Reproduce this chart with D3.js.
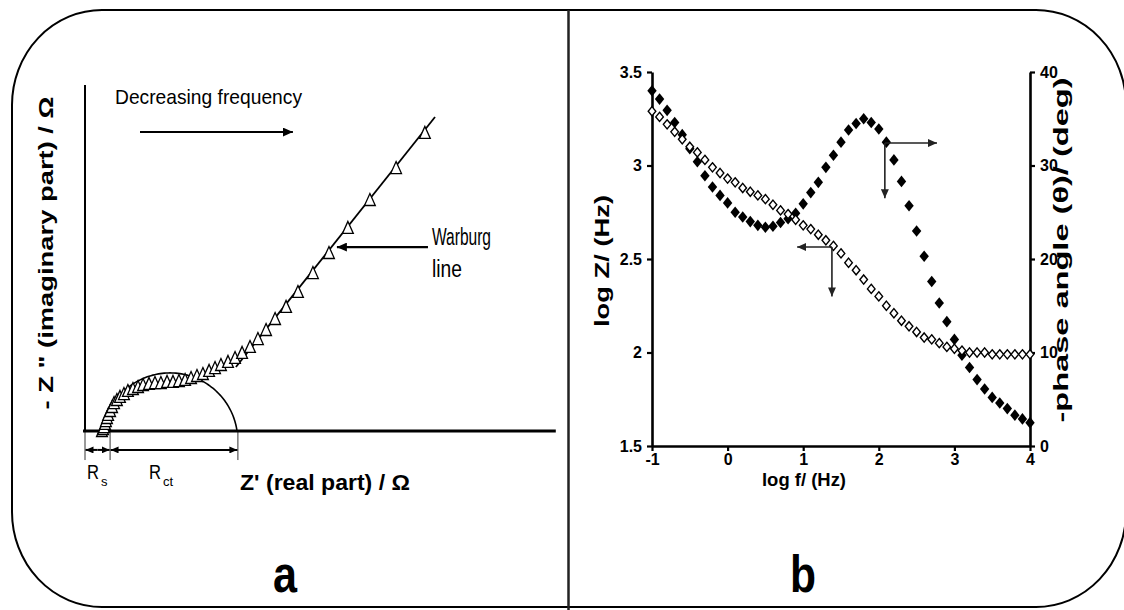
<!DOCTYPE html>
<html><head><meta charset="utf-8">
<script src="https://cdn.jsdelivr.net/npm/d3@7"></script>
<style>body{margin:0;background:#fff}svg{display:block}</style>
</head><body>
<svg id="c" width="1124" height="610"></svg>
<script>
// ---------- Panel a : Nyquist data (Ω) ----------
const nyqRe = [7.7,8.2,8.6,9.1,9.5,10.0,10.5,11.4,12.3,13.2,14.5,15.9,17.7,19.5,21.8,24.1,26.4,29.1,31.8,34.5,37.3,40.0,42.7,45.5,48.2,50.9,53.6,56.4,59.1,61.8,65.0,68.2,71.4,75.0,78.6,82.3,86.4,91.4,96.8,103.6,110.9,119.5,129.5,141.4,154.5];
const nyqIm = [0,0.9,1.8,3.2,4.5,5.9,7.3,9.1,10.9,12.7,14.1,15.5,16.8,18.2,19.1,20.0,20.9,21.4,21.8,21.8,22.3,22.3,22.7,23.2,24.1,25.0,25.9,27.3,28.6,30.0,31.4,33.2,35.5,38.2,41.8,45.9,50.9,56.4,63.2,71.8,80.9,92.3,105.0,119.5,135.5];
const semiStart = 8.2, semiEnd = 69.1, semiPeak = 26.4;
const warburgRe = [68.6, 159.1];
const warburgIm = [29.1, 142.7];
const Rs = 11.4, RsPlusRct = 69.5;

// ---------- Panel b : Bode data ----------
const logF = [-1.0,-0.9,-0.8,-0.7,-0.6,-0.5,-0.4,-0.3,-0.2,-0.1,0.0,0.1,0.2,0.3,0.4,0.5,0.6,0.7,0.8,0.9,1.0,1.1,1.2,1.3,1.4,1.5,1.6,1.7,1.8,1.9,2.0,2.1,2.2,2.3,2.4,2.5,2.6,2.7,2.8,2.9,3.0,3.1,3.2,3.3,3.4,3.5,3.6,3.7,3.8,3.9,4.0];
const logZ = [3.29,3.26,3.22,3.18,3.14,3.10,3.07,3.03,2.99,2.96,2.93,2.91,2.88,2.86,2.84,2.82,2.79,2.76,2.74,2.71,2.68,2.66,2.63,2.60,2.57,2.53,2.48,2.44,2.39,2.34,2.30,2.25,2.21,2.17,2.14,2.11,2.08,2.07,2.05,2.03,2.02,2.01,2.00,2.00,2.00,1.99,1.99,1.99,1.99,1.99,1.99];
const phase = [38.0,37.1,35.9,34.6,33.3,31.8,30.4,28.9,27.7,26.8,26.0,25.0,24.5,24.0,23.6,23.4,23.5,23.9,24.3,24.9,25.9,27.1,28.2,29.8,31.1,32.5,33.8,34.5,35.0,34.6,33.9,32.5,30.6,28.3,25.7,23.0,20.3,17.6,15.3,13.3,11.4,9.7,8.4,7.1,6.1,5.2,4.6,4.0,3.3,2.9,2.5];
const xTicks = [-1,0,1,2,3,4];
const xTickLabels = ["-1","0","1","2","3","4"];
const leftTicks = [1.5,2,2.5,3,3.5];
const leftTickLabels = ["1.5","2","2.5","3","3.5"];
const rightTicks = [0,10,20,30,40];
const rightTickLabels = ["0","10","20","30","40"];

const FONT = "'Liberation Sans', Arial, Helvetica, sans-serif";
const svg = d3.select("#c");
svg.append("rect").attr("width",1124).attr("height",610).attr("fill","#fff");

const defs = svg.append("defs");
function marker(id, len, wid, color){
  defs.append("marker").attr("id",id).attr("markerUnits","userSpaceOnUse")
    .attr("markerWidth",len).attr("markerHeight",wid)
    .attr("refX",len).attr("refY",wid/2).attr("orient","auto")
    .append("path").attr("d",`M0,0L${len},${wid/2}L0,${wid}Z`).attr("fill",color);
}
marker("ah", 10, 9, "#000");
marker("ahs", 8, 7, "#000");
marker("ahg", 9, 8, "#222");

function txt(s, x, y, o){
  const t = svg.append("text").attr("font-family",FONT)
    .attr("font-size",o.size).attr("font-weight",o.bold?"bold":"normal")
    .attr("fill","#000").attr("text-anchor",o.anchor||"start");
  if(o.rot){ t.attr("transform",`translate(${x},${y}) rotate(-90)`); }
  else { t.attr("x",x).attr("y",y); }
  if(o.len){ t.attr("textLength",o.len).attr("lengthAdjust","spacingAndGlyphs"); }
  t.text(s);
  return t;
}
function subTxt(main, sub, x, y, size, subSize){
  const t = svg.append("text").attr("font-family",FONT).attr("fill","#000")
    .attr("x",x).attr("y",y).attr("font-size",size);
  t.append("tspan").attr("textLength",12).attr("lengthAdjust","spacingAndGlyphs").text(main);
  t.append("tspan").attr("font-size",subSize).attr("dx",2).attr("dy",7).text(sub);
}

// frame
svg.append("rect").attr("x",12).attr("y",10).attr("width",1114).attr("height",597)
  .attr("rx",90).attr("ry",95).attr("fill","none").attr("stroke","#000").attr("stroke-width",2);
svg.append("line").attr("x1",568.5).attr("x2",568.5).attr("y1",10).attr("y2",610)
  .attr("stroke","#222").attr("stroke-width",2.5);

// ===== Panel a =====
const xA = d3.scaleLinear().domain([0,214]).range([85,555.8]);
const yA = d3.scaleLinear().domain([0,158]).range([431,83.4]);
const ga = svg.append("g");
ga.append("line").attr("x1",xA(-0.9)).attr("x2",xA(214)).attr("y1",yA(0)).attr("y2",yA(0))
  .attr("stroke","#000").attr("stroke-width",3);
ga.append("line").attr("x1",xA(0)).attr("x2",xA(0)).attr("y1",yA(0)).attr("y2",yA(157.3))
  .attr("stroke","#000").attr("stroke-width",2);

(function(){
  const c = (semiStart+semiEnd)/2, h = (semiEnd-semiStart)/2;
  const R = (h*h + semiPeak*semiPeak)/(2*semiPeak), yc = semiPeak - R;
  const a0 = Math.asin(-yc/R);
  const pts = d3.range(0,101).map(i=>{const a = a0 + (Math.PI-2*a0)*i/100; return [c+R*Math.cos(a), yc+R*Math.sin(a)];});
  ga.append("path").attr("d", d3.line().x(d=>xA(d[0])).y(d=>yA(d[1]))(pts))
    .attr("fill","none").attr("stroke","#000").attr("stroke-width",1.6);
})();
ga.append("line").attr("x1",xA(warburgRe[0])).attr("y1",yA(warburgIm[0]))
  .attr("x2",xA(warburgRe[1])).attr("y2",yA(warburgIm[1]))
  .attr("stroke","#000").attr("stroke-width",1.8);
const triSym = {draw(ctx){ctx.moveTo(0,-6.5);ctx.lineTo(5.4,5.5);ctx.lineTo(-5.4,5.5);ctx.closePath();}};
ga.selectAll(".tri").data(nyqRe.map((r,i)=>[r,nyqIm[i]])).join("path")
  .attr("d", d3.symbol(triSym)())
  .attr("transform", d=>`translate(${xA(d[0])},${yA(d[1])})`)
  .attr("fill","#fff").attr("stroke","#000").attr("stroke-width",1.3);

[0, Rs, RsPlusRct].forEach(v=>{
  ga.append("line").attr("x1",xA(v)).attr("x2",xA(v)).attr("y1",yA(0)).attr("y2",yA(-13.2))
    .attr("stroke","#000").attr("stroke-width",0.8);
});
function dbl(a,b){
  const y = yA(-8.6), m=(xA(a)+xA(b))/2;
  ga.append("line").attr("x1",m).attr("x2",xA(a)+0.5).attr("y1",y).attr("y2",y)
    .attr("stroke","#000").attr("stroke-width",2).attr("marker-end","url(#ahs)");
  ga.append("line").attr("x1",m).attr("x2",xA(b)-0.5).attr("y1",y).attr("y2",y)
    .attr("stroke","#000").attr("stroke-width",2).attr("marker-end","url(#ahs)");
}
dbl(0,Rs); dbl(Rs,RsPlusRct);

ga.append("line").attr("x1",xA(25)).attr("x2",xA(94.5)).attr("y1",yA(135.9)).attr("y2",yA(135.9))
  .attr("stroke","#000").attr("stroke-width",2).attr("marker-end","url(#ah)");
ga.append("line").attr("x1",xA(155.9)).attr("x2",xA(114.5)).attr("y1",yA(83.6)).attr("y2",yA(83.6))
  .attr("stroke","#000").attr("stroke-width",2.2).attr("marker-end","url(#ah)");

txt("Decreasing frequency",115,104,{size:21,len:187});
txt("Warburg",432,245,{size:23,len:59});
txt("line",432,277,{size:23,len:30});
txt('- Z " (imaginary part) / \u03A9',53,253,{size:20,bold:true,rot:true,anchor:"middle",len:313});
txt("Z' (real part) / \u03A9",240,490,{size:22,bold:true,len:170});
subTxt("R","s",87,479,21,13);
subTxt("R","ct",149,479,21,13);
txt("a",273,592,{size:52,bold:true,len:24});

// ===== Panel b =====
const xB = d3.scaleLinear().domain([-1,4]).range([652,1030]);
const yL = d3.scaleLinear().domain([1.5,3.5]).range([446,72]);
const yR = d3.scaleLinear().domain([0,40]).range([446,72]);
const gb = svg.append("g");

function styleAxis(g){
  g.select(".domain").attr("stroke","#000").attr("stroke-width",2.6);
  g.selectAll(".tick line").attr("stroke","#000").attr("stroke-width",2.2);
  g.selectAll(".tick text").attr("font-family",FONT).attr("font-size",16)
    .attr("font-weight","bold").attr("fill","#000");
}
gb.append("g").attr("transform","translate(0,446)")
  .call(d3.axisBottom(xB).tickValues(xTicks).tickFormat((d,i)=>xTickLabels[i]).tickSize(5).tickSizeOuter(0).tickPadding(3))
  .call(styleAxis);
gb.append("g").attr("transform","translate(652,0)")
  .call(d3.axisLeft(yL).tickValues(leftTicks).tickFormat((d,i)=>leftTickLabels[i]).tickSize(5).tickSizeOuter(0).tickPadding(5))
  .call(styleAxis);
gb.append("g").attr("transform","translate(1030,0)")
  .call(d3.axisRight(yR).tickValues(rightTicks).tickFormat((d,i)=>rightTickLabels[i]).tickSize(5).tickSizeOuter(0).tickPadding(5))
  .call(styleAxis);

const dFill = {draw(ctx){ctx.moveTo(0,-5.8);ctx.lineTo(4.7,0);ctx.lineTo(0,5.8);ctx.lineTo(-4.7,0);ctx.closePath();}};
const dOpen = {draw(ctx){ctx.moveTo(0,-4.6);ctx.lineTo(3.8,0);ctx.lineTo(0,4.6);ctx.lineTo(-3.8,0);ctx.closePath();}};
gb.selectAll(".ph").data(logF.map((f,i)=>[f,phase[i]])).join("path")
  .attr("d", d3.symbol(dFill)())
  .attr("transform", d=>`translate(${xB(d[0])},${yR(d[1])})`).attr("fill","#000");
gb.selectAll(".lz").data(logF.map((f,i)=>[f,logZ[i]])).join("path")
  .attr("d", d3.symbol(dOpen)())
  .attr("transform", d=>`translate(${xB(d[0])},${yL(d[1])})`)
  .attr("fill","#fff").attr("stroke","#000").attr("stroke-width",1.4);

function ptr(x0,y0,x1,y1){
  gb.append("line").attr("x1",x0).attr("y1",y0).attr("x2",x1).attr("y2",y1)
    .attr("stroke","#222").attr("stroke-width",1.6).attr("marker-end","url(#ahg)");
}
ptr(xB(2.08), yR(32.4), xB(2.77), yR(32.4));
ptr(xB(2.08), yR(32.4), xB(2.08), yR(26.5));
ptr(xB(1.38), yL(2.564), xB(0.92), yL(2.564));
ptr(xB(1.38), yL(2.564), xB(1.38), yL(2.30));

txt("log f/ (Hz)",804,486,{size:18,bold:true,anchor:"middle",len:84});
txt("log Z/ (Hz)",609,261,{size:21,bold:true,rot:true,anchor:"middle",len:132});
txt("-phase angle (\u03B8)/ (deg)",1068,250,{size:20,bold:true,rot:true,anchor:"middle",len:345});
txt("b",790,592,{size:52,bold:true,len:26});
</script>
</body></html>
